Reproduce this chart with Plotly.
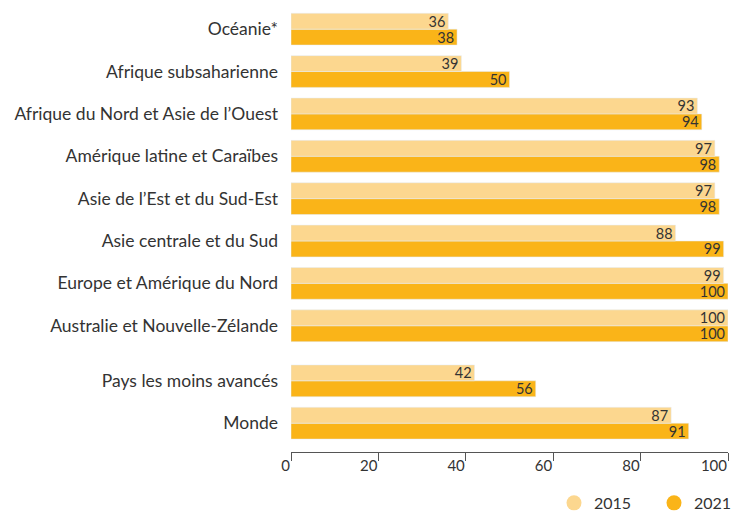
import plotly.graph_objects as go

# Regions listed top to bottom
categories = [
    "Océanie*",
    "Afrique subsaharienne",
    "Afrique du Nord et Asie de l’Ouest",
    "Amérique latine et Caraïbes",
    "Asie de l’Est et du Sud-Est",
    "Asie centrale et du Sud",
    "Europe et Amérique du Nord",
    "Australie et Nouvelle-Zélande",
    "Pays les moins avancés",
    "Monde",
]
values_2015 = [36, 39, 93, 97, 97, 88, 99, 100, 42, 87]
values_2021 = [38, 50, 94, 98, 98, 99, 100, 100, 56, 91]
x_ticks = [0, 20, 40, 60, 80, 100]

COLOR_2015 = "#FCD78F"
COLOR_2021 = "#FAB418"
TEXT = "#333333"
FONT = "Lato, sans-serif"

# Vertical slots: the two aggregates sit at the bottom, then an extra gap
# before the eight regions.
n = len(categories)
n_aggregates = 2
group_gap = 0.3
positions = []
for i in range(n):
    slot = n - 1 - i
    if i < n - n_aggregates:
        slot += group_gap
    positions.append(slot)

fig = go.Figure()
bar_common = dict(
    orientation="h",
    textposition="inside",
    insidetextanchor="end",
    constraintext="none",
    textangle=0,
    textfont=dict(family=FONT, size=14.5, color=TEXT),
    showlegend=False,
    hoverinfo="skip",
)
# In a horizontal group, the first trace is drawn lowest
fig.add_trace(go.Bar(x=values_2021, y=positions, text=values_2021,
                     marker_color=COLOR_2021, name="2021", **bar_common))
fig.add_trace(go.Bar(x=values_2015, y=positions, text=values_2015,
                     marker_color=COLOR_2015, name="2015", **bar_common))

# Round legend markers
for name, color, rank in [("2015", COLOR_2015, 1), ("2021", COLOR_2021, 2)]:
    fig.add_trace(go.Scatter(x=[None], y=[None], mode="markers", name=name,
                             marker=dict(color=color, size=15, symbol="circle"),
                             legendrank=rank))

fig.update_layout(
    width=731,
    height=511,
    margin=dict(l=291, r=3, t=5, b=59, autoexpand=False),
    paper_bgcolor="white",
    plot_bgcolor="white",
    barmode="group",
    bargap=0.25,
    bargroupgap=0,
    font=dict(family=FONT, size=15, color=TEXT),
    showlegend=True,
    legend=dict(
        orientation="h",
        x=1.0595,
        xanchor="right",
        y=-0.152,
        yanchor="bottom",
        font=dict(family=FONT, size=16, color=TEXT),
        itemwidth=30,
        entrywidth=55,
        tracegroupgap=0,
    ),
)
fig.update_xaxes(
    range=[0, 100],
    tickvals=x_ticks,
    ticktext=[str(v) for v in x_ticks],
    ticklabelposition="outside left",
    showline=True,
    linecolor="#555555",
    linewidth=1,
    ticks="outside",
    ticklen=8,
    tickcolor="#555555",
    showgrid=False,
    zeroline=False,
    tickfont=dict(family=FONT, size=15, color=TEXT),
    fixedrange=True,
)
fig.update_yaxes(
    range=[-0.68, positions[0] + 0.57],
    tickvals=positions,
    ticktext=categories,
    ticks="",
    showline=False,
    showgrid=False,
    zeroline=False,
    ticklabelstandoff=12,
    tickfont=dict(family=FONT, size=17.5, color=TEXT),
    fixedrange=True,
)

fig.write_html("out.html")
